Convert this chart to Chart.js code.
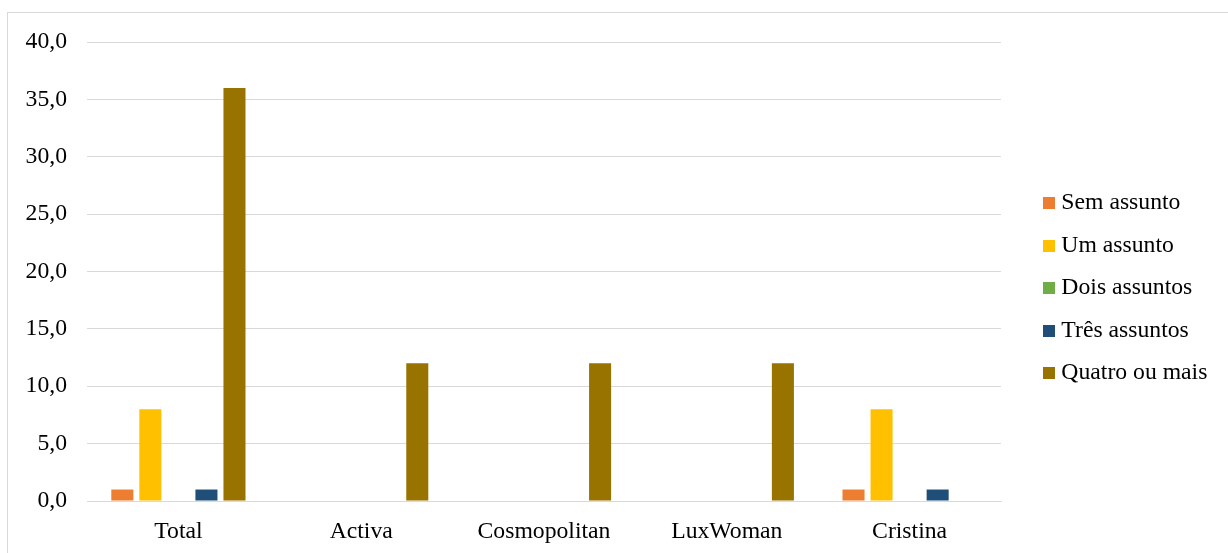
<!DOCTYPE html>
<html><head><meta charset="utf-8">
<script src="https://cdn.jsdelivr.net/npm/chart.js@4/dist/chart.umd.min.js"></script>
<style>
html,body{margin:0;padding:0;background:#fff;overflow:hidden;}
#wrap{position:relative;width:1228px;height:553px;overflow:hidden;}
#frame{position:absolute;left:7px;top:12px;width:1240px;height:560px;border:1px solid #d9d9d9;pointer-events:none;}
canvas{position:absolute;left:0;top:0;}
</style></head><body>
<div id="wrap"><canvas id="c" width="1228" height="553"></canvas><div id="frame"></div></div>
<script>
const categories = ['Total', 'Activa', 'Cosmopolitan', 'LuxWoman', 'Cristina'];
const seriesNames = ['Sem assunto', 'Um assunto', 'Dois assuntos', 'Três assuntos', 'Quatro ou mais'];
const semAssunto = [1, 0, 0, 0, 1];
const umAssunto = [8, 0, 0, 0, 8];
const doisAssuntos = [0, 0, 0, 0, 0];
const tresAssuntos = [1, 0, 0, 0, 1];
const quatroOuMais = [36, 12, 12, 12, 0];
const yTickValues = [0, 5, 10, 15, 20, 25, 30, 35, 40];
const seriesColors = ['#ED7D31', '#FFC000', '#70AD47', '#1F4E79', '#997300'];

const seriesValues = [semAssunto, umAssunto, doisAssuntos, tresAssuntos, quatroOuMais];
const FONT = 'Liberation Serif, Times New Roman, serif';
const FS = 23.7;

function swatch(color) {
  const cv = document.createElement('canvas');
  cv.width = 12; cv.height = 12;
  const g = cv.getContext('2d');
  g.fillStyle = color; g.fillRect(0, 0, 12, 12);
  return cv;
}
const swatches = seriesColors.map(swatch);

new Chart(document.getElementById('c'), {
  type: 'bar',
  data: {
    labels: categories,
    datasets: seriesNames.map((n, i) => ({
      label: n,
      data: seriesValues[i],
      backgroundColor: seriesColors[i],
      borderWidth: 0,
      barPercentage: 0.786,
      categoryPercentage: 0.767
    }))
  },
  options: {
    responsive: false,
    animation: false,
    devicePixelRatio: 1,
    layout: { padding: { top: 32, bottom: 9, left: 0, right: 10.6 } },
    plugins: {
      tooltip: { enabled: false },
      legend: {
        position: 'right',
        labels: {
          usePointStyle: true,
          boxWidth: 1, boxHeight: 12, padding: 18.8,
          color: '#000',
          font: { family: FONT, size: FS },
          generateLabels: chart => Chart.defaults.plugins.legend.labels.generateLabels(chart)
            .map(l => Object.assign(l, { pointStyle: swatches[l.datasetIndex], lineWidth: 0 }))
        }
      }
    },
    scales: {
      x: {
        afterFit: s => { s.height = 43; },
        grid: { display: false, drawTicks: false },
        border: { display: true, color: '#d9d9d9', width: 1 },
        ticks: { color: '#000', padding: 17, font: { family: FONT, size: FS }, maxRotation: 0 }
      },
      topgap: {
        type: 'category', axis: 'x', position: 'top', display: true,
        afterFit: s => { s.height = 10; },
        grid: { display: false, drawTicks: false },
        border: { display: false },
        ticks: { display: false }
      },
      y: {
        min: 0, max: 40,
        afterFit: s => { s.width = 87; },
        afterBuildTicks: s => { s.ticks = yTickValues.map(v => ({ value: v })); },
        grid: { color: '#d9d9d9', lineWidth: 1, drawTicks: false },
        border: { display: false },
        ticks: {
          color: '#000', padding: 20,
          font: { family: FONT, size: FS },
          callback: v => v.toFixed(1).replace('.', ',')
        }
      },
      gap: {
        position: 'right', display: true,
        afterFit: s => { s.width = 28.7; },
        grid: { display: false, drawTicks: false },
        border: { display: false },
        ticks: { display: false }
      }
    }
  }
});
</script>
</body></html>
